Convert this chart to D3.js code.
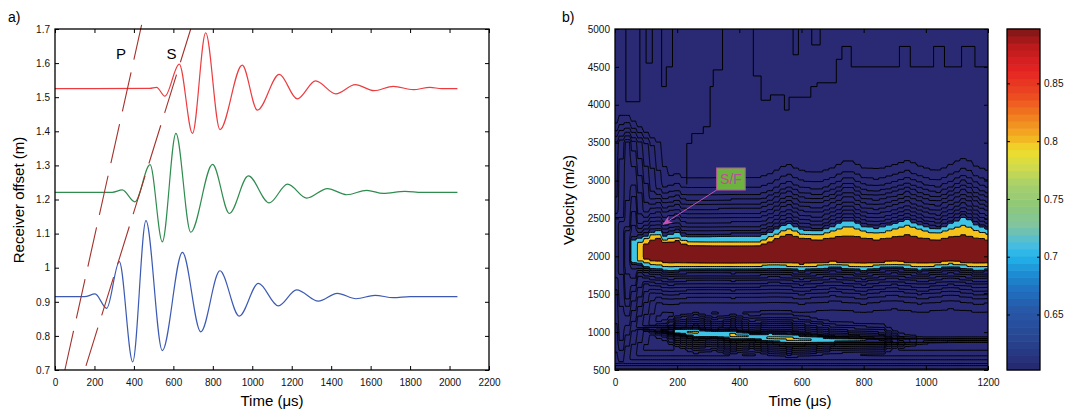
<!DOCTYPE html>
<html>
<head>
<meta charset="utf-8">
<script src="https://cdn.jsdelivr.net/npm/d3@7"></script>
<style>
  body { margin: 0; background: #fff; }
</style>
</head>
<body>
<script>
// ---------------- panel a: traces ----------------
const redT   = [0, 480, 515, 557, 630, 697, 764, 836, 949, 1026, 1137, 1228, 1321, 1424, 1522, 1617, 1715, 1816, 1901, 1960, 2040]
const redY   = [1.525, 1.526, 1.529, 1.503, 1.597, 1.394, 1.689, 1.405, 1.594, 1.462, 1.567, 1.495, 1.548, 1.510, 1.537, 1.519, 1.532, 1.522, 1.529, 1.525, 1.525]
const greenT = [0, 290, 341, 405, 482, 544, 613, 688, 799, 884, 980, 1086, 1179, 1276, 1381, 1479, 1580, 1664, 1774, 1860, 2040]
const greenY = [1.221, 1.221, 1.228, 1.193, 1.302, 1.076, 1.394, 1.104, 1.303, 1.159, 1.269, 1.190, 1.245, 1.204, 1.232, 1.214, 1.227, 1.218, 1.224, 1.221, 1.221]
const blueT  = [0, 150, 203, 262, 326, 394, 461, 544, 646, 739, 836, 934, 1031, 1132, 1225, 1335, 1431, 1526, 1622, 1715, 1800, 2040]
const blueY  = [0.915, 0.915, 0.923, 0.881, 1.018, 0.724, 1.138, 0.757, 1.045, 0.812, 0.991, 0.858, 0.954, 0.888, 0.935, 0.902, 0.925, 0.909, 0.919, 0.912, 0.915, 0.915]

// arrival lines [time, offset]
const pLine = [[50, 0.7], [439, 1.712]]
const sLine = [[157, 0.712], [688, 1.7]]

const xTicksA = d3.range(0, 2201, 200)
const yTicksA = d3.range(7, 18).map(d => d / 10)

// ---------------- panel b: semblance map ----------------
// edges of the main band (m/s) read at these times (µs)
const bandT     = [0, 30, 55, 75, 95, 115, 135, 160, 180, 200, 225, 300, 380, 465, 510, 555, 600, 655, 705, 750, 800, 845, 895, 940, 990, 1035, 1080, 1125, 1165, 1200]
const cyanTop   = [2200, 2200, 2210, 2230, 2260, 2310, 2350, 2270, 2290, 2310, 2250, 2250, 2260, 2260, 2330, 2435, 2350, 2325, 2400, 2490, 2390, 2370, 2420, 2480, 2400, 2350, 2430, 2520, 2400, 2350]
const yellowTop = [2140, 2140, 2150, 2170, 2215, 2270, 2300, 2220, 2240, 2250, 2200, 2195, 2195, 2195, 2280, 2370, 2300, 2280, 2340, 2410, 2330, 2300, 2360, 2410, 2340, 2300, 2360, 2410, 2340, 2300]
const redTop    = [2110, 2110, 2110, 2120, 2150, 2200, 2255, 2180, 2190, 2200, 2150, 2140, 2135, 2140, 2210, 2300, 2240, 2215, 2250, 2280, 2240, 2215, 2250, 2280, 2240, 2215, 2250, 2280, 2240, 2215]
const redBot    = [2000, 2000, 2000, 1990, 1970, 1950, 1935, 1925, 1915, 1920, 1915, 1905, 1905, 1910, 1925, 1915, 1900, 1915, 1930, 1915, 1905, 1920, 1935, 1920, 1905, 1920, 1935, 1920, 1905, 1915]
const yellowBot = [1960, 1960, 1960, 1945, 1920, 1900, 1885, 1870, 1860, 1870, 1870, 1870, 1865, 1870, 1885, 1875, 1860, 1875, 1895, 1875, 1860, 1880, 1900, 1880, 1860, 1880, 1900, 1880, 1860, 1870]
const cyanBot   = [1920, 1920, 1930, 1910, 1875, 1850, 1840, 1825, 1815, 1825, 1830, 1835, 1830, 1835, 1850, 1840, 1820, 1840, 1860, 1840, 1820, 1845, 1865, 1845, 1820, 1845, 1865, 1845, 1820, 1830]
const bandPeak  = [0.58, 0.63, 0.69, 0.81, 0.84, 0.95, 0.95, 0.95, 0.95, 0.95, 0.95, 0.95, 0.95, 0.95, 0.95, 0.95, 0.95, 0.95, 0.95, 0.95, 0.95, 0.95, 0.95, 0.95, 0.95, 0.95, 0.95, 0.95, 0.95, 0.95]

// black contour levels and where they sit above / below the cyan edge (m/s)
const lineLevels = [0.68, 0.66, 0.64, 0.62, 0.60, 0.57, 0.54, 0.51, 0.48, 0.44, 0.40, 0.35]
const upOff      = [40, 85, 135, 190, 250, 310, 370, 430, 490, 560, 650, 780]
const dnOff      = [25, 55, 85, 120, 155, 195, 235, 280, 325, 380, 450, 560]

// weaker streak near 900-1000 m/s
const streakT    = [0, 100, 170, 200, 260, 320, 380, 440, 500, 560, 620, 700, 780, 860, 920, 1000, 1100, 1200]
const streakV    = [1080, 1050, 1020, 1010, 990, 975, 960, 945, 930, 915, 905, 895, 890, 885, 885, 890, 900, 900]
const streakPeak = [0.46, 0.52, 0.64, 0.76, 0.84, 0.78, 0.85, 0.79, 0.84, 0.85, 0.82, 0.76, 0.74, 0.72, 0.58, 0.48, 0.46, 0.46]
const streakOff  = [0, 20, 40, 70, 110, 150, 200, 260, 340, 800]
const streakDrop = [0, 0.06, 0.13, 0.19, 0.24, 0.29, 0.35, 0.43, 0.52, 0.75]

// early-time fan on the left side
const leftV     = [500, 900, 1300, 1700, 2000, 2400, 2800, 3200, 3500, 3700, 4000, 5000]
const leftC     = [10, 20, 35, 50, 60, 60, 55, 45, 40, 35, 25, 10]
const leftPeak  = [0.48, 0.54, 0.60, 0.66, 0.69, 0.66, 0.63, 0.60, 0.57, 0.45, 0.30, 0.25]
const leftSlope = 0.0022

// low-velocity floor
const floorV   = [500, 540, 580, 630, 700, 800, 1000]
const floorVal = [0.56, 0.52, 0.48, 0.44, 0.39, 0.32, 0.20]

// low-level contours in the upper part [time, velocity]
const topLineA = [[1200,4500],[1158,4500],[1158,4770],[1115,4770],[1115,4500],[1060,4500],[1060,4770],[1025,4770],[1025,4500],[950,4500],[950,4770],[915,4770],[915,4500],[760,4500],[760,4770],[730,4770],[730,4600],[712,4600],[712,4290],[650,4290],[650,4240],[630,4240],[630,4100],[560,4100],[560,3930],[545,3930],[545,4130],[500,4130],[500,4060],[470,4060],[470,4380],[445,4380],[445,5000]]
const topLineB = [[346,5000],[346,4460],[316,4460],[316,4240],[306,4240],[306,3710],[284,3710],[284,3620],[247,3620],[247,3490],[231,3490],[231,2950]]
const topFingers = [
  [[35,5000],[35,4040],[80,4040],[80,5000]],
  [[100,5000],[100,4550],[120,4550],[120,5000]],
  [[150,5000],[150,4240],[165,4240],[165,4500],[185,4500],[185,5000]],
  [[573,5000],[573,4660],[590,4660],[590,5000]],
  [[633,5000],[633,4790],[660,4790],[660,5000]]
]

// colour bar
const cmapV = [0.602, 0.615, 0.632, 0.654, 0.671, 0.689, 0.700, 0.710, 0.727, 0.745, 0.762, 0.779, 0.792, 0.805, 0.823, 0.840, 0.862, 0.883, 0.897]
const cmapC = ['#26286c','#283680','#284894','#2858a8','#2070c0','#1e94d8','#22b4ea','#48bce0','#80c4a0','#90c878','#a8d06c','#d4dc48','#f0dc2c','#f3ac20','#f07a20','#ec4a22','#e42222','#b81a1c','#7a1616']
const cbarTicks = [0.65, 0.7, 0.75, 0.8, 0.85]

const xTicksB = d3.range(0, 1201, 200)
const yTicksB = d3.range(500, 5001, 500)

const navy = '#2a2a74', cyan = '#40c4e6', gold = '#f5c21c', darkRed = '#7e1717'

// ---------------- drawing ----------------
const svg = d3.select('body').append('svg')
    .attr('width', 1072).attr('height', 412)
    .attr('font-family', 'Arial, "Liberation Sans", Helvetica, sans-serif')

const intFmt = d3.format('d')

function boxAxes(g, x, y, xTicks, yTicks, xFmt, yFmt) {
  const [x0, x1] = x.range(), [y0, y1] = y.range()
  const style = sel => sel.attr('font-size', 12).attr('font-family', null)
  g.append('g').attr('transform', `translate(0,${y0})`).call(style)
    .call(d3.axisBottom(x).tickValues(xTicks).tickSizeInner(-4).tickSizeOuter(0).tickPadding(9).tickFormat(xFmt))
  g.append('g').attr('transform', `translate(0,${y1})`).call(style)
    .call(d3.axisTop(x).tickValues(xTicks).tickSizeInner(-4).tickSizeOuter(0).tickFormat(''))
  g.append('g').attr('transform', `translate(${x0},0)`).call(style)
    .call(d3.axisLeft(y).tickValues(yTicks).tickSizeInner(-4).tickSizeOuter(0).tickPadding(5).tickFormat(yFmt))
  g.append('g').attr('transform', `translate(${x1},0)`).call(style)
    .call(d3.axisRight(y).tickValues(yTicks).tickSizeInner(-4).tickSizeOuter(0).tickFormat(''))
  g.selectAll('.domain').remove()
  g.selectAll('.tick line').attr('stroke', '#000')
  g.selectAll('.tick text').attr('fill', '#111')
  g.append('rect')
      .attr('x', x0).attr('y', y1).attr('width', x1 - x0).attr('height', y0 - y1)
      .attr('fill', 'none').attr('stroke', '#000').attr('stroke-width', 1.3)
}

// ---- panel a
const xa = d3.scaleLinear().domain([0, 2200]).range([55, 489])
const ya = d3.scaleLinear().domain([0.7, 1.7]).range([370, 29])
const ga = svg.append('g')

const traceLine = d3.line().x(d => xa(d[0])).y(d => ya(d[1])).curve(d3.curveMonotoneX)
const traces = [
  {t: redT, y: redY, color: '#ec3c40'},
  {t: greenT, y: greenY, color: '#2f8c4f'},
  {t: blueT, y: blueY, color: '#3c5ab4'}
]
ga.selectAll('path.trace')
  .data(traces)
  .enter().append('path')
    .attr('class', 'trace')
    .attr('d', d => traceLine(d.t.map((t, i) => [t, d.y[i]])))
    .attr('fill', 'none')
    .attr('stroke', d => d.color)
    .attr('stroke-width', 1.2)

ga.selectAll('path.arrival')
  .data([pLine, sLine])
  .enter().append('path')
    .attr('class', 'arrival')
    .attr('d', d3.line().x(d => xa(d[0])).y(d => ya(d[1])))
    .attr('fill', 'none')
    .attr('stroke', '#a3312b')
    .attr('stroke-width', 1.1)
    .attr('stroke-dasharray', '40,13')

boxAxes(ga, xa, ya, xTicksA, yTicksA, intFmt, d => String(+d.toFixed(1)))

ga.append('text').attr('x', xa(335)).attr('y', 59).attr('text-anchor', 'middle')
    .attr('font-size', 15).text('P')
ga.append('text').attr('x', xa(590)).attr('y', 59).attr('text-anchor', 'middle')
    .attr('font-size', 15).text('S')
ga.append('text').attr('x', 8).attr('y', 22).attr('font-size', 14).text('a)')
ga.append('text').attr('x', 272).attr('y', 406).attr('text-anchor', 'middle')
    .attr('font-size', 15).text('Time (μs)')
ga.append('text').attr('transform', 'translate(24,200) rotate(-90)').attr('text-anchor', 'middle')
    .attr('font-size', 15).text('Receiver offset (m)')

// ---- panel b
const xs = d3.scaleLinear().domain([0, 1200]).range([615, 988])
const ys = d3.scaleLinear().domain([500, 5000]).range([370, 29])
const gb = svg.append('g')

function interp(x, xv, yv) {
  const last = xv.length - 1
  if (x <= xv[0]) return yv[0]
  if (x >= xv[last]) return yv[last]
  const i = d3.bisectRight(xv, x) - 1
  const f = (x - xv[i]) / (xv[i + 1] - xv[i])
  return yv[i] + f * (yv[i + 1] - yv[i])
}

const profVal   = [0.70].concat(lineLevels, [0.20])
const upProfOff = [0].concat(upOff, [1500])
const dnProfOff = [0].concat(dnOff, [1200])

function bandAt(t, v) {
  const ct = interp(t, bandT, cyanTop), yt = interp(t, bandT, yellowTop), rt = interp(t, bandT, redTop)
  const rb = interp(t, bandT, redBot), yb = interp(t, bandT, yellowBot), cb = interp(t, bandT, cyanBot)
  let val
  if (v >= ct) val = interp(v - ct, upProfOff, profVal)
  else if (v >= yt) val = 0.70 + 0.10 * (ct - v) / (ct - yt)
  else if (v >= rt) val = 0.80 + 0.05 * (yt - v) / (yt - rt)
  else if (v > rb) val = 0.85 + 0.10 * Math.min(rt - v, v - rb) / ((rt - rb) / 2)
  else if (v > yb) val = 0.80 + 0.05 * (v - yb) / (rb - yb)
  else if (v > cb) val = 0.70 + 0.10 * (v - cb) / (yb - cb)
  else val = interp(cb - v, dnProfOff, profVal)
  return Math.min(val, interp(t, bandT, bandPeak))
}

function fieldAt(t, v) {
  const streak = interp(t, streakT, streakPeak) -
      interp(Math.abs(v - interp(t, streakT, streakV)), streakOff, streakDrop)
  const left = interp(v, leftV, leftPeak) - leftSlope * Math.abs(t - interp(v, leftV, leftC))
  return Math.max(bandAt(t, v), streak, left, interp(v, floorV, floorVal), 0.2)
}

const DT = 20, DV = 25, K = 3
const gridT = d3.range(0, 1201, DT)
const gridV = d3.range(5000, 499, -DV)
const coarse = gridV.map(v => gridT.map(t => fieldAt(t, v)))
const n = gridT.length * K, m = gridV.length * K
const values = new Float64Array(n * m)
for (let j = 0; j < m; j++) {
  const row = coarse[Math.floor(j / K)]
  for (let i = 0; i < n; i++) values[i + j * n] = row[Math.floor(i / K)]
}

const thresholds = lineLevels.slice().sort(d3.ascending).concat([0.70, 0.80, 0.85])
const contours = d3.contours().size([n, m]).smooth(true).thresholds(thresholds)(values)

const gx = d3.scaleLinear().domain([0, n]).range([xs(-DT / 2), xs(1200 + DT / 2)])
const gy = d3.scaleLinear().domain([0, m]).range([ys(5000 + DV / 2), ys(500 - DV / 2)])
const gridPath = d3.geoPath(d3.geoTransform({
  point(x, y) { this.stream.point(gx(x), gy(y)) }
}))

gb.append('clipPath').attr('id', 'clipB').append('rect')
    .attr('x', xs(0)).attr('y', ys(5000)).attr('width', xs(1200) - xs(0)).attr('height', ys(500) - ys(5000))

const plot = gb.append('g').attr('clip-path', 'url(#clipB)')
plot.append('rect')
    .attr('x', xs(0)).attr('y', ys(5000)).attr('width', xs(1200) - xs(0)).attr('height', ys(500) - ys(5000))
    .attr('fill', navy)

const fillFor = lv => lv >= 0.85 ? darkRed : lv >= 0.80 ? gold : lv >= 0.70 ? cyan : 'none'
plot.selectAll('path.level')
  .data(contours)
  .enter().append('path')
    .attr('class', 'level')
    .attr('d', gridPath)
    .attr('fill', d => fillFor(d.value))
    .attr('fill-rule', 'evenodd')
    .attr('stroke', '#000')
    .attr('stroke-width', 1)

const stepLine = d3.line().x(d => xs(d[0])).y(d => ys(d[1]))
plot.selectAll('path.upper')
  .data([topLineA, topLineB].concat(topFingers))
  .enter().append('path')
    .attr('class', 'upper')
    .attr('d', stepLine)
    .attr('fill', 'none')
    .attr('stroke', '#000')
    .attr('stroke-width', 1)

boxAxes(gb, xs, ys, xTicksB, yTicksB, intFmt, intFmt)

// S/F annotation
const sfBox = {t0: 327, t1: 419, v0: 2875, v1: 3166}
const sfHead = [155, 2424]
gb.append('defs').append('marker')
    .attr('id', 'arrowHead').attr('viewBox', '0 0 10 8').attr('refX', 9).attr('refY', 4)
    .attr('markerWidth', 10).attr('markerHeight', 8).attr('markerUnits', 'userSpaceOnUse')
    .attr('orient', 'auto')
  .append('path').attr('d', 'M0,0 L10,4 L0,8 L3,4 Z').attr('fill', '#c255b4')
gb.append('line')
    .attr('x1', xs(sfBox.t0)).attr('y1', ys(sfBox.v0))
    .attr('x2', xs(sfHead[0])).attr('y2', ys(sfHead[1]))
    .attr('stroke', '#c255b4').attr('stroke-width', 1)
    .attr('marker-end', 'url(#arrowHead)')
gb.append('rect')
    .attr('x', xs(sfBox.t0)).attr('y', ys(sfBox.v1))
    .attr('width', xs(sfBox.t1) - xs(sfBox.t0)).attr('height', ys(sfBox.v0) - ys(sfBox.v1))
    .attr('fill', '#6db33f').attr('stroke', '#b9559f').attr('stroke-width', 1)
gb.append('text')
    .attr('x', (xs(sfBox.t0) + xs(sfBox.t1)) / 2).attr('y', (ys(sfBox.v0) + ys(sfBox.v1)) / 2 + 5)
    .attr('text-anchor', 'middle').attr('font-size', 14).attr('fill', '#c04c9c').text('S/F')

gb.append('text').attr('x', 562).attr('y', 22).attr('font-size', 14).text('b)')
gb.append('text').attr('x', 800).attr('y', 406).attr('text-anchor', 'middle')
    .attr('font-size', 15).text('Time (μs)')
gb.append('text').attr('transform', 'translate(574,200) rotate(-90)').attr('text-anchor', 'middle')
    .attr('font-size', 15).text('Velocity (m/s)')

// ---- colour bar
const cmap = d3.scaleLinear().domain(cmapV).range(cmapC)
const yc = d3.scaleLinear().domain([0.602, 0.897]).range([370, 29])
const cbX0 = 1007, cbX1 = 1040
const nSteps = 48
const stepH = (yc.domain()[1] - yc.domain()[0]) / nSteps
const gc = svg.append('g')
gc.selectAll('rect.step')
  .data(d3.range(nSteps).map(k => yc.domain()[0] + k * stepH))
  .enter().append('rect')
    .attr('class', 'step')
    .attr('x', cbX0).attr('width', cbX1 - cbX0)
    .attr('y', d => yc(d + stepH) - 0.3).attr('height', d => yc(d) - yc(d + stepH) + 0.6)
    .attr('fill', d => cmap(d + stepH / 2))
gc.append('g').attr('transform', `translate(${cbX1},0)`).attr('font-size', 12).attr('font-family', null)
    .call(d3.axisRight(yc).tickValues(cbarTicks).tickSizeInner(-3).tickSizeOuter(0).tickPadding(4)
      .tickFormat(d => String(+d.toFixed(2))))
gc.append('g').attr('transform', `translate(${cbX0},0)`)
    .call(d3.axisLeft(yc).tickValues(cbarTicks).tickSizeInner(-3).tickSizeOuter(0).tickFormat(''))
gc.selectAll('.domain').remove()
gc.selectAll('.tick line').attr('stroke', '#000')
gc.selectAll('.tick text').attr('fill', '#111')
gc.append('rect').attr('x', cbX0).attr('y', 29).attr('width', cbX1 - cbX0).attr('height', 341)
    .attr('fill', 'none').attr('stroke', '#000').attr('stroke-width', 1.3)
</script>
</body>
</html>
